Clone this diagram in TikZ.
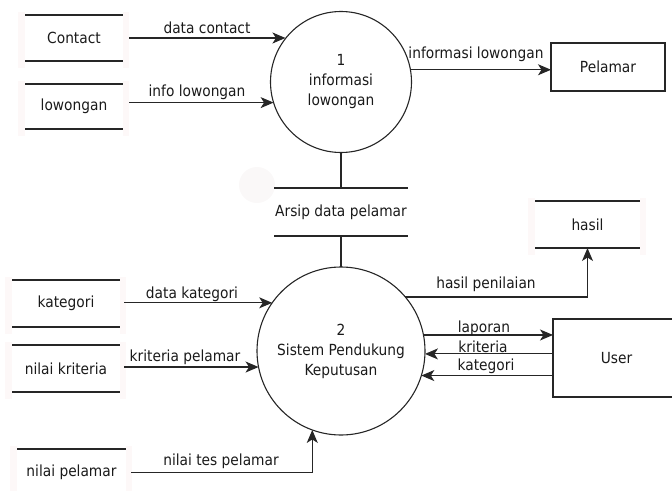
\documentclass[tikz,border=0pt]{standalone}
\usepackage{fontspec}
\setmainfont{DejaVu Sans}[FakeStretch=0.9]
\usetikzlibrary{arrows.meta}
\definecolor{ln}{HTML}{262626}
\definecolor{tx}{HTML}{1A1A1A}
\definecolor{ghost}{HTML}{FDF8F8}
\definecolor{halo}{HTML}{FAF8F8}
\begin{document}
\begin{tikzpicture}[x=1pt,y=-1pt,
  every node/.style={font=\fontsize{15.3}{20}\selectfont, text=tx, inner sep=0pt, outer sep=0pt},
  link/.style={draw=ln, line width=1.1pt},
  flow/.style={link, -{Stealth[length=13pt,width=11pt,inset=3.5pt]}},
  proc/.style={circle, draw=ln, line width=1.1pt, align=center, minimum size=#1},
  ent/.style={rectangle, draw=ln, line width=1.1pt},
  store/.style={rectangle, append after command={
      (\tikzlastnode.north west) edge[link] (\tikzlastnode.north east)
      (\tikzlastnode.south west) edge[link] (\tikzlastnode.south east)}},
  lbl/.style={anchor=base}
]
\useasboundingbox (0,0) rectangle (672,490);
\clip (0,0) rectangle (672,490);

% faint mark left of the archive store
\fill[halo] (257,185) circle (18);

% pale side bars behind the stores
\foreach \cx/\cy/\w/\h in {74/38/98/46, 74/106.5/98/45, 587.5/224.5/105/47,
                           66/303.5/108/47, 66/368.5/108/47, 71.5/472.5/109/47}{
  \fill[ghost] (\cx-\w/2-7,\cy-\h/2-3) rectangle (\cx-\w/2,\cy+\h/2+7);
  \fill[ghost] (\cx+\w/2,\cy-\h/2-3) rectangle (\cx+\w/2+6,\cy+\h/2+7);
}

% data stores
\node[store, minimum width=98, minimum height=46] (contact) at (74,38) {Contact};
\node[store, minimum width=98, minimum height=45] (low) at (74,106.5) {lowongan};
\node[store, minimum width=134, minimum height=48] (arsip) at (341,212) {Arsip data pelamar};
\node[store, minimum width=105, minimum height=47] (hasil) at (587.5,224.5) {hasil};
\node[store, minimum width=108, minimum height=47] (kat) at (66,303.5) {kategori};
\node[store, minimum width=108, minimum height=47] (nk) at (66,368.5) {nilai kriteria};
\node[store, minimum width=109, minimum height=47] (np) at (71.5,472.5) {nilai pelamar};

% processes
\node[proc=141] (p1) at (341,82) {1\\informasi\\lowongan};
\node[proc=168] (p2) at (341,351) {2\\Sistem Pendukung\\Keputusan};

% external entities
\node[ent, minimum width=114, minimum height=48] (pelamar) at (608,67) {Pelamar};
\node[ent, minimum width=127, minimum height=78] (user) at (616.5,358) {User};

% flows into process 1
\draw[flow] ([xshift=6pt]contact.east) -- (contact.east -| p1.142);
\draw[flow] ([xshift=6pt]low.east |- p1.197) -- (p1.197);
\draw[flow] (p1.10.6) -- (p1.10.6 -| pelamar.west);

% archive links
\draw[link] (p1.south) -- (arsip.north);
\draw[link] (arsip.south) -- (p2.north);

% flows around process 2
\draw[flow] ([xshift=4pt]kat.east |- p2.145) -- (p2.145);
\draw[flow] ([xshift=4pt]nk.east |- p2.191.7) -- (p2.191.7);
\draw[flow] ([xshift=5pt]np.east) -| (p2.250.5);
\draw[flow] (p2.40.9) -| (hasil.south);
\draw[flow] (p2.11.7) -- (p2.11.7 -| user.west);
\draw[flow] (p2.-2 -| user.west) -- (p2.-2);
\draw[flow] (p2.-17.3 -| user.west) -- (p2.-17.3);

% flow labels
\node[lbl] (t1) at (207,33.3) {data contact};
\node[lbl] (t2) at (197,96.5) {info lowongan};
\node[lbl] (t3) at (476,58) {informasi lowongan};
\node[lbl] (t4) at (486,288) {hasil penilaian};
\node[lbl] (t5) at (484,332) {laporan};
\node[lbl] (t6) at (483,352) {kriteria};
\node[lbl] (t7) at (486,370.5) {kategori};
\node[lbl] (t8) at (192,298) {data kategori};
\node[lbl] (t9) at (185,361.5) {kriteria pelamar};
\node[lbl] (t10) at (221,465) {nilai tes pelamar};
\end{tikzpicture}
\end{document}
